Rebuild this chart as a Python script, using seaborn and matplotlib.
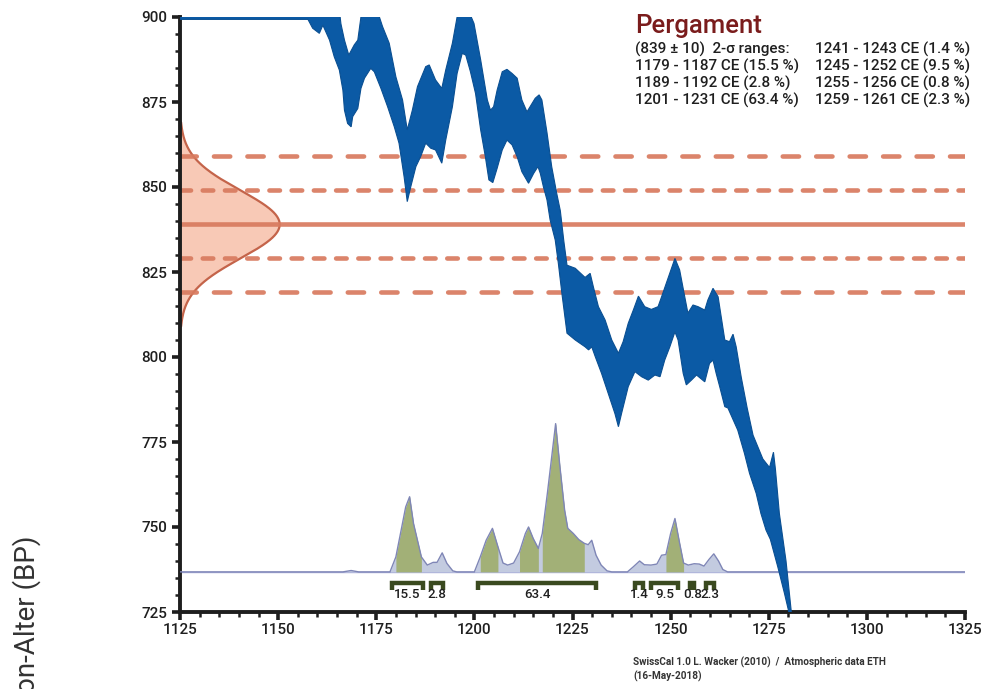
import numpy as np
import matplotlib
matplotlib.use("Agg")
import matplotlib.pyplot as plt
from matplotlib.ticker import MultipleLocator
import seaborn as sns

# ---------------- data ----------------
sample_name = "Pergament"
meas_age = 839          # radiocarbon age (BP)
meas_sigma = 10         # 1-sigma
gauss_width = 25.4      # horizontal extent of the measurement gaussian (years)

# calibration curve band (upper = older edge, lower = younger edge)
upper_year = [1125, 1165.3, 1166.0, 1166.9, 1168.0, 1169.4, 1170.3, 1171.1, 1171.6, 1175.3,
              1175.8, 1176.6, 1178.3, 1180.0, 1181.7, 1182.9, 1184.2, 1185.5, 1187.6, 1188.5,
              1190.1, 1191.7, 1192.7, 1194.4, 1195.6, 1196.0, 1198.7, 1199.2, 1199.9, 1201.6,
              1203.3, 1204.1, 1204.9, 1205.8, 1207.1, 1208.3, 1209.6, 1210.9, 1212.1, 1213.4,
              1215.5, 1216.5, 1217.2, 1218.5, 1219.7, 1221.0, 1221.9, 1222.8, 1223.6, 1225.7,
              1228.2, 1229.5, 1230.3, 1231.6, 1233.3, 1235.0, 1236.7, 1237.9, 1239.2, 1240.5,
              1241.8, 1243.4, 1245.1, 1246.8, 1247.7, 1248.9, 1251.1, 1252.3, 1253.6, 1254.4,
              1255.7, 1257.0, 1258.7, 1259.5, 1260.8, 1262.1, 1263.8, 1265.0, 1265.9, 1266.7,
              1268.0, 1269.5, 1271.0, 1273.5, 1275.2, 1276.2, 1276.7, 1277.7, 1279.4, 1281.2]
upper_bp = [905, 905, 898, 893.2, 888.8, 891.8, 893.2, 900, 905, 905,
            900, 897.2, 892.3, 882.4, 875.6, 866.8, 872.6, 879.5, 885.4, 885.9,
            881.5, 879.0, 884.4, 892.3, 900, 905, 905, 900, 898.1, 887.4,
            875.6, 872.6, 873.6, 878.5, 883.9, 884.6, 883.4, 882.0, 875.6, 872.1,
            876.1, 877.1, 875.6, 866, 856, 848, 843, 834, 827, 826.1,
            823.4, 824.6, 820.7, 814.8, 810.9, 805.0, 801.1, 804.5, 809.9, 813.8,
            817.9, 814.8, 814.0, 814.8, 817.7, 821.7, 829.0, 825.6, 817.7, 812.9,
            815.3, 814.8, 813.8, 816.8, 820.2, 817.7, 805.0, 804.5, 806.7, 803.0,
            794, 785, 777, 770, 767.5, 772, 767, 754, 740, 720]

lower_year = [1125, 1157.6, 1158.8, 1160.5, 1161.4, 1163.1, 1164.3, 1165.6, 1166.5, 1166.9,
              1167.7, 1168.6, 1169.0, 1170.3, 1171.1, 1172.0, 1173.6, 1174.5, 1176.2, 1177.9,
              1179.6, 1180.8, 1182.1, 1182.9, 1183.8, 1185.1, 1186.3, 1187.6, 1188.9, 1190.1,
              1191.7, 1192.7, 1194.4, 1195.6, 1196.9, 1197.8, 1199.0, 1200.3, 1201.6, 1202.8,
              1203.7, 1204.7, 1205.8, 1207.1, 1208.3, 1209.6, 1210.9, 1212.1, 1213.8, 1215.1,
              1216.2, 1216.8, 1217.6, 1218.5, 1219.3, 1220.6, 1221.4, 1222.3, 1223.6, 1225.7,
              1228.2, 1229.1, 1229.9, 1230.8, 1232.4, 1234.1, 1235.8, 1236.7, 1237.5, 1239.2,
              1240.9, 1242.6, 1244.3, 1246.0, 1247.3, 1248.5, 1249.8, 1251.1, 1251.9, 1253.2,
              1254.0, 1255.3, 1256.6, 1258.7, 1259.9, 1260.8, 1261.6, 1262.5, 1263.8, 1264.6,
              1267.1, 1268.8, 1270.1, 1271.8, 1273.0, 1274.3, 1275.4, 1277.3, 1279.0, 1280.0, 1280.6]
lower_bp = [899.3, 899.3, 896.7, 895.2, 897.6, 893.2, 888.3, 884.4, 878.5, 872.6,
            868.7, 867.7, 870.7, 873.1, 879.0, 882.0, 884.9, 883.9, 879.0, 873.6,
            867.7, 862.9, 853.0, 845.7, 850.1, 856.0, 858.9, 862.9, 861.4, 860.9,
            857.0, 863.8, 873.6, 883.4, 889.3, 888.8, 883.9, 877.5, 866.8, 858.9,
            852.1, 851.3, 855.5, 860.9, 863.8, 862.4, 858.9, 854.5, 851.1, 854.0,
            856.0, 854.0, 850, 846.2, 840.3, 834.4, 827.5, 818.7, 807.0, 805.0,
            803.0, 802.1, 803.0, 800.1, 795.2, 789.3, 783.4, 779.5, 783.4, 791.3,
            795.7, 794.2, 793.2, 794.7, 794.2, 799.1, 803.0, 807.4, 805.0, 795.2,
            791.8, 793.2, 794.7, 792.7, 798.1, 799.1, 795.2, 791.3, 785.4, 785.0,
            778.5, 771.7, 765.8, 759.9, 754.0, 749.1, 746.4, 738.3, 730.5, 725.6, 720]

# calibrated probability distribution (heights in BP-axis units above baseline)
prob_base = 736.8
prob_year = [1125, 1166.5, 1168.6, 1170.5, 1178.5, 1180.0, 1181.5, 1182.5, 1183.5, 1184.5,
             1185.5, 1186.5, 1188.0, 1189.5, 1190.5, 1191.8, 1193.0, 1194.5, 1195.5, 1200.0,
             1201.5, 1203.0, 1204.6, 1206.0, 1207.3, 1208.5, 1210.0, 1211.5, 1213.0, 1213.8,
             1215.0, 1216.3, 1217.3, 1218.6, 1219.7, 1220.7, 1221.8, 1223.0, 1223.8, 1225.2,
             1226.6, 1228.0, 1229.0, 1229.9, 1231.0, 1232.3, 1233.8, 1235.0, 1239.0, 1240.5,
             1242.1, 1243.3, 1245.0, 1246.5, 1247.7, 1248.8, 1250.0, 1251.1, 1252.3, 1253.3,
             1254.5, 1256.0, 1257.3, 1258.5, 1259.8, 1261.0, 1262.2, 1263.3, 1264.5, 1325]
prob_h = [0, 0, 0.4, 0, 0, 4.4, 13.2, 19.1, 22.1, 14.2,
          9.3, 4.4, 2.0, 2.8, 2.8, 5.6, 2.5, 0.3, 0, 0,
          4.4, 9.3, 12.8, 7.4, 2.6, 2.0, 2.6, 5.9, 11.3, 13.2,
          9.8, 6.9, 11.3, 23.1, 33.8, 43.6, 30.9, 18.1, 12.8, 11.3,
          9.5, 8.4, 8.0, 9.3, 4.9, 2.0, 0.3, 0, 0, 1.5,
          3.2, 2.1, 2.0, 2.3, 4.9, 5.1, 11.3, 15.7, 8.4, 2.6,
          2.0, 2.4, 2.3, 1.7, 3.7, 5.3, 3.2, 0.7, 0, 0]

# highlighted (1-sigma) parts of the distribution
green_start = [1180.0, 1201.5, 1211.5, 1217.3, 1248.8]
green_end = [1186.5, 1206.0, 1216.3, 1228.0, 1253.3]

# 2-sigma ranges
range_start = [1179, 1189, 1201, 1241, 1245, 1255, 1259]
range_end = [1187, 1192, 1231, 1243, 1252, 1256, 1261]
range_pct = ["15.5", "2.8", "63.4", "1.4", "9.5", "0.8", "2.3"]

legend_left = ["(839 \u00b1 10)  2-\u03c3 ranges:", "1179 - 1187 CE (15.5 %)",
               "1189 - 1192 CE (2.8 %)", "1201 - 1231 CE (63.4 %)"]
legend_right = ["1241 - 1243 CE (1.4 %)", "1245 - 1252 CE (9.5 %)",
                "1255 - 1256 CE (0.8 %)", "1259 - 1261 CE (2.3 %)"]

# ---------------- style ----------------
sns.set_style("ticks")
plt.rcParams["font.family"] = ["Roboto", "DejaVu Sans"]

W, H = 990, 689
fig = plt.figure(figsize=(W / 100, H / 100), dpi=100)
ax = fig.add_axes([180 / W, 1 - 612 / H, (965 - 180) / W, (612 - 17) / H])
ax.set_xlim(1125, 1325)
ax.set_ylim(725, 900)

line_col = "#d87a5e"
band_col = "#0b5aa5"
txt_col = "#1f1f1f"

# measurement gaussian
gy = np.linspace(meas_age - 3 * meas_sigma, meas_age + 3 * meas_sigma, 300)
gx = 1125 + gauss_width * np.exp(-0.5 * ((gy - meas_age) / meas_sigma) ** 2)
ax.fill_betweenx(gy, 1125, gx, color="#f8c9b6", lw=0, zorder=1)
ax.plot(gx, gy, color="#c4644a", lw=1.6, zorder=1.5)

# measurement lines
ax.axhline(meas_age, color=line_col, lw=3.3, zorder=2, alpha=0.92)
for k, (on, off) in [(1, (2.3, 2.55)), (2, (3.55, 3.75))]:
    for s in (-1, 1):
        ax.axhline(meas_age + s * k * meas_sigma, color=line_col, lw=3.3,
                   linestyle=(0, (on, off)), dash_capstyle="round", zorder=2, alpha=0.92)

# probability distribution
px = np.array(prob_year)
py = prob_base + np.array(prob_h)
ax.axhline(prob_base, color="#a7abd8", lw=1.0, zorder=2)
ax.fill_between(px, prob_base, py, color="#c3cbe0", lw=0, zorder=2.2)
for a, b in zip(green_start, green_end):
    m = (px >= a) & (px <= b)
    ax.fill_between(px, prob_base, py, where=m, color="#a2b077", lw=0, zorder=2.4)
sns.lineplot(x=px, y=py, color="#7f86b6", lw=1.0, ax=ax, estimator=None, sort=False, zorder=2.6)

# 2-sigma range brackets
br_col = "#3a4a1f"
for a, b, lab in zip(range_start, range_end, range_pct):
    ax.plot([a, a, b, b], [731.6, 733.6, 733.6, 731.6], color=br_col, lw=3.2,
            solid_capstyle="butt", solid_joinstyle="miter", zorder=3)
    ax.text((a + b) / 2, 729.0, lab, ha="center", va="baseline", fontsize=9.6,
            fontweight=500, color=txt_col, zorder=3)

# calibration curve band
bx = np.r_[upper_year, lower_year[::-1]]
by = np.r_[upper_bp, lower_bp[::-1]]
ax.fill(bx, by, color=band_col, ec="#0a4f92", lw=0.8, zorder=4)

# axes styling
for sp in ("top", "right"):
    ax.spines[sp].set_visible(False)
for sp in ("left", "bottom"):
    ax.spines[sp].set_linewidth(2.8)
    ax.spines[sp].set_color("#1e1e1e")
ax.xaxis.set_major_locator(MultipleLocator(25))
ax.xaxis.set_minor_locator(MultipleLocator(5))
ax.yaxis.set_major_locator(MultipleLocator(25))
ax.yaxis.set_minor_locator(MultipleLocator(5))
ax.tick_params(which="major", length=6, width=2.6, color="#1e1e1e", labelsize=11, pad=2)
ax.tick_params(which="minor", length=3.5, width=1.8, color="#1e1e1e")
ax.tick_params(axis="y", which="major", pad=3)
for t in ax.get_xticklabels() + ax.get_yticklabels():
    t.set_color(txt_col)
    t.set_fontweight(500)

# texts
fig.text(635 / W, 1 - 33 / H, sample_name, fontsize=18.5, fontweight=500,
         color="#7a1c1c", va="baseline")
for i, (l, r) in enumerate(zip(legend_left, legend_right)):
    yb = 1 - (54 + i * 16.8) / H
    fig.text(635 / W, yb, l, fontsize=11, fontweight=500, color=txt_col, va="baseline")
    fig.text(815 / W, yb, r, fontsize=11, fontweight=500, color=txt_col, va="baseline")

fig.text(633 / W, 1 - 666 / H, "SwissCal 1.0 L. Wacker (2010)  /  Atmospheric data ETH",
         fontsize=7.2, fontweight="bold", color="#333333", va="baseline")
fig.text(633 / W, 1 - 680 / H, "(16-May-2018)", fontsize=7.2, fontweight="bold",
         color="#333333", va="baseline")

fig.text(27 / W, 1 - 535 / H, "Radiocarbon-Alter (BP)", rotation=90, fontsize=20,
         ha="center", va="top", color="#333333")

fig.savefig("out.png", dpi=100)
